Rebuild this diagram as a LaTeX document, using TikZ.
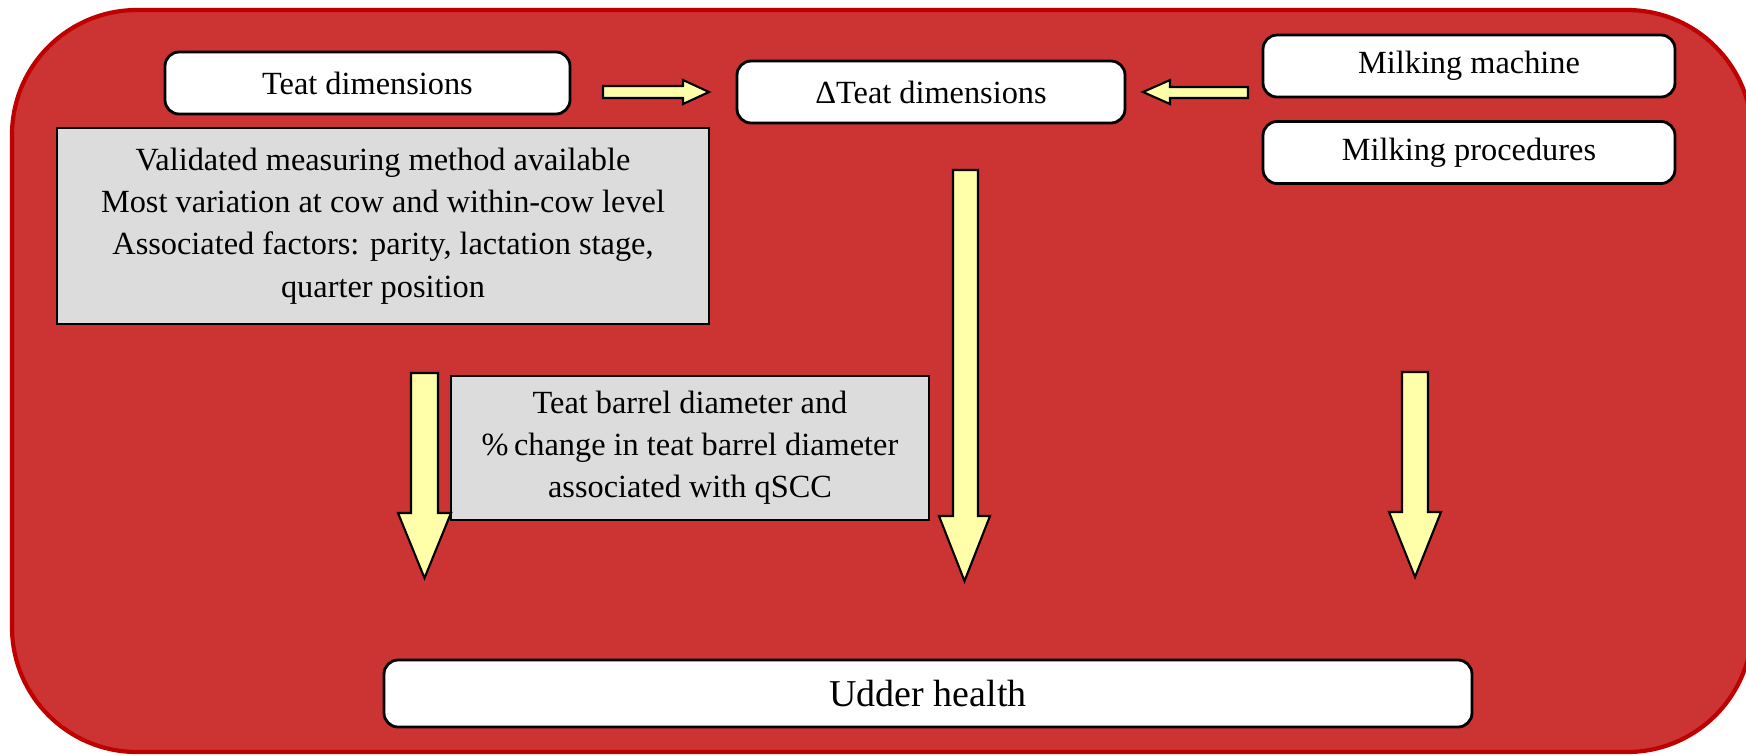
\documentclass[tikz,border=0pt]{standalone}
\usepackage{fontspec}
\setmainfont{Liberation Serif}
\newfontfamily\tnrfont{Liberation Serif}
\usetikzlibrary{positioning, calc}

\definecolor{bgred}{HTML}{CC3333}
\definecolor{edgered}{HTML}{C00000}
\definecolor{boxgrey}{HTML}{DCDCDC}
\definecolor{arrowyellow}{HTML}{FFFFAA}

\begin{document}
\begin{tikzpicture}[
  wbox/.style={draw, line width=0.8pt, fill=white, rounded corners=4pt, minimum height=0.62cm, font=\tnrfont\fontsize{9.2}{12}\selectfont},
  gbox/.style={draw, line width=0.8pt, fill=boxgrey, align=center, font=\tnrfont\fontsize{9.2}{12}\selectfont},
  yarrow/.style={draw, line width=0.6pt, fill=arrowyellow}
]
\useasboundingbox (0,0) rectangle (17.46,-7.55);

% background
\draw[line width=1.2pt, draw=edgered, fill=bgred, rounded corners=1.25cm] (0.12,-0.10) rectangle (17.52,-7.52);

% top row
\node[wbox, minimum width=4.05cm] (tdim) at (3.675,-0.83) {Teat dimensions};
\node[wbox, minimum width=3.88cm] (dtdim) at (9.31,-0.92) {ΔTeat dimensions};
\node[wbox, minimum width=4.12cm] (mmach) at (14.69,-0.66) {Milking machine};
\node[wbox, minimum width=4.12cm] (mproc) at (14.69,-1.525) {Milking procedures};

% grey boxes
\node[gbox, minimum width=6.52cm, minimum height=1.96cm] (tinfo) at (3.83,-2.26)
  {Validated measuring method available\\Most variation at cow and within-cow level\\Associated factors: parity, lactation stage,\\quarter position};
\node[gbox, minimum width=4.78cm, minimum height=1.44cm] (tbarrel) at (6.90,-4.48)
  {Teat barrel diameter and\\\%\,change in teat barrel diameter\\associated with qSCC};

% bottom
\node[wbox, minimum width=10.88cm, minimum height=0.67cm, font=\tnrfont\fontsize{10.8}{13}\selectfont] (udder) at (9.28,-6.935) {Udder health};

% arrows
\draw[yarrow] (6.03,-0.86) -- (6.83,-0.86) -- (6.83,-0.80) -- (7.09,-0.92) -- (6.83,-1.04) -- (6.83,-0.98) -- (6.03,-0.98) -- cycle;
\draw[yarrow] (12.48,-0.87) -- (11.70,-0.87) -- (11.70,-0.80) -- (11.43,-0.92) -- (11.70,-1.04) -- (11.70,-0.98) -- (12.48,-0.98) -- cycle;
\draw[yarrow] (4.11,-3.73) -- (4.38,-3.73) -- (4.38,-5.13) -- (4.51,-5.13) -- (4.245,-5.78) -- (3.98,-5.13) -- (4.11,-5.13) -- cycle;
\draw[yarrow] (9.53,-1.70) -- (9.78,-1.70) -- (9.78,-5.16) -- (9.90,-5.16) -- (9.645,-5.81) -- (9.39,-5.16) -- (9.53,-5.16) -- cycle;
\draw[yarrow] (14.02,-3.72) -- (14.28,-3.72) -- (14.28,-5.12) -- (14.41,-5.12) -- (14.15,-5.77) -- (13.89,-5.12) -- (14.02,-5.12) -- cycle;

\end{tikzpicture}
\end{document}
